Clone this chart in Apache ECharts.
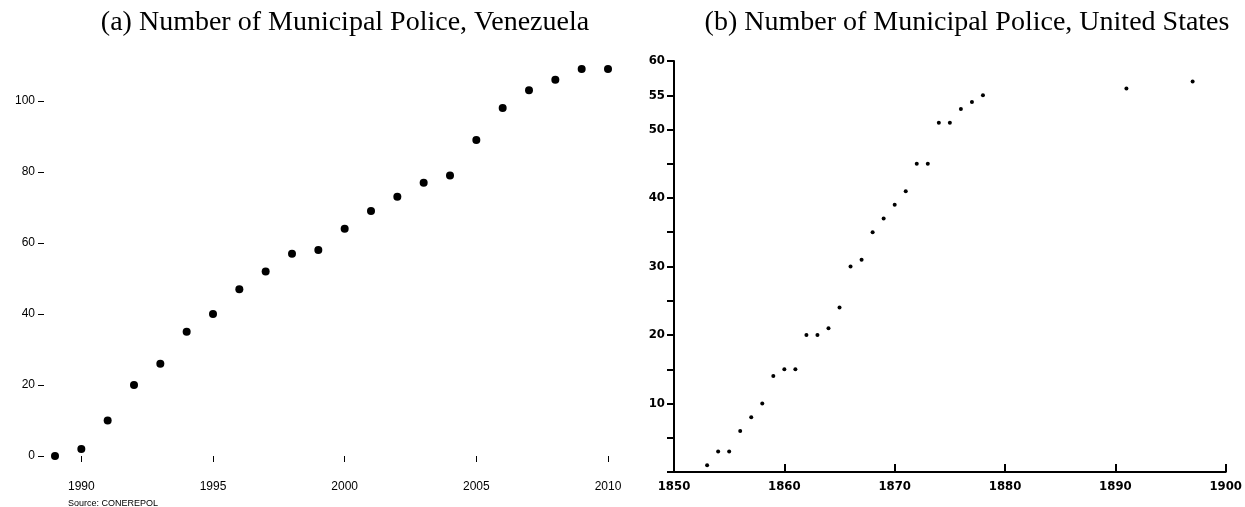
<!DOCTYPE html>
<html><head><meta charset="utf-8">
<script src="https://cdn.jsdelivr.net/npm/echarts@6/dist/echarts.min.js"></script>
<style>html,body{margin:0;padding:0;background:#fff}#c{width:1245px;height:507px}</style>
</head><body><div id="c"></div>
<script>
// Venezuela (a)
const venYears = [1989,1990,1991,1992,1993,1994,1995,1996,1997,1998,1999,2000,2001,2002,2003,2004,2005,2006,2007,2008,2009,2010];
const venPolice = [0,2,10,20,26,35,40,47,52,57,58,64,69,73,77,79,89,98,103,106,109,109];
const venXTicks = [1990,1995,2000,2005,2010];
const venYTicks = [0,20,40,60,80,100];
// United States (b)
const usYears = [1853,1854,1855,1856,1857,1858,1859,1860,1861,1862,1863,1864,1865,1866,1867,1868,1869,1870,1871,1872,1873,1874,1875,1876,1877,1878,1891,1897];
const usPolice = [1,3,3,6,8,10,14,15,15,20,20,21,24,30,31,35,37,39,41,45,45,51,51,53,54,55,56,57];
const usYLabels = [10,20,30,40,50,55,60];

const chart = echarts.init(document.getElementById('c'));
const sans = 'Liberation Sans';
const narrow = '"DejaVu Sans Condensed", "Liberation Sans Narrow", sans-serif';
chart.setOption({
  animation: false,
  title: [
    {text: '(a) Number of Municipal Police, Venezuela', left: 340, top: 4, textAlign: 'center',
     textStyle: {fontFamily: 'Liberation Serif', fontSize: 28, fontWeight: 'normal', color: '#000'}},
    {text: '(b) Number of Municipal Police, United States', left: 962, top: 4, textAlign: 'center',
     textStyle: {fontFamily: 'Liberation Serif', fontSize: 28, fontWeight: 'normal', color: '#000'}},
    {text: 'Source: CONEREPOL', left: 63, top: 494,
     textStyle: {fontFamily: sans, fontSize: 9, fontWeight: 'normal', color: '#000'}}
  ],
  grid: [
    {left: 55, width: 553, top: 65.5, height: 390.5},
    {left: 674, width: 555, top: 61, height: 411}
  ],
  xAxis: [
    {gridIndex: 0, type: 'value', min: 1989, max: 2010, offset: 12,
     splitLine: {show: false}, axisLine: {show: false},
     axisTick: {show: true, length: 6, customValues: venXTicks, lineStyle: {color: '#000'}},
     axisLabel: {customValues: venXTicks, margin: 13, color: '#000', fontFamily: sans, fontSize: 12,
       formatter: v => String(v)}},
    {gridIndex: 1, type: 'value', min: 1850, max: 1900, interval: 10,
     splitLine: {show: false},
     axisLine: {show: true, lineStyle: {color: '#000', width: 2}},
     axisTick: {show: true, inside: true, length: 8, lineStyle: {color: '#000', width: 2}},
     axisLabel: {margin: 8, color: '#000', fontFamily: narrow, fontWeight: 'bold', fontSize: 13,
       formatter: v => String(v)}}
  ],
  yAxis: [
    {gridIndex: 0, type: 'value', min: 0, max: 110, offset: 11,
     splitLine: {show: false}, axisLine: {show: false},
     axisTick: {show: true, length: 6, customValues: venYTicks, lineStyle: {color: '#000'}},
     axisLabel: {customValues: venYTicks, margin: 9, color: '#000', fontFamily: sans, fontSize: 12,
       formatter: v => String(v)}},
    {gridIndex: 1, type: 'value', min: 0, max: 60, interval: 5,
     splitLine: {show: false},
     axisLine: {show: true, lineStyle: {color: '#000', width: 2}},
     axisTick: {show: true, length: 7, lineStyle: {color: '#000', width: 2}},
     axisLabel: {margin: 9, color: '#000', fontFamily: narrow, fontWeight: 'bold', fontSize: 13,
       formatter: v => (usYLabels.indexOf(v) >= 0 ? String(v) : '')}}
  ],
  series: [
    {type: 'scatter', xAxisIndex: 0, yAxisIndex: 0, symbolSize: 8, clip: false,
     itemStyle: {color: '#000', opacity: 1}, data: venYears.map((y, i) => [y, venPolice[i]])},
    {type: 'scatter', xAxisIndex: 1, yAxisIndex: 1, symbolSize: 4, clip: false,
     itemStyle: {color: '#000', opacity: 1}, data: usYears.map((y, i) => [y, usPolice[i]])}
  ]
});
</script></body></html>
